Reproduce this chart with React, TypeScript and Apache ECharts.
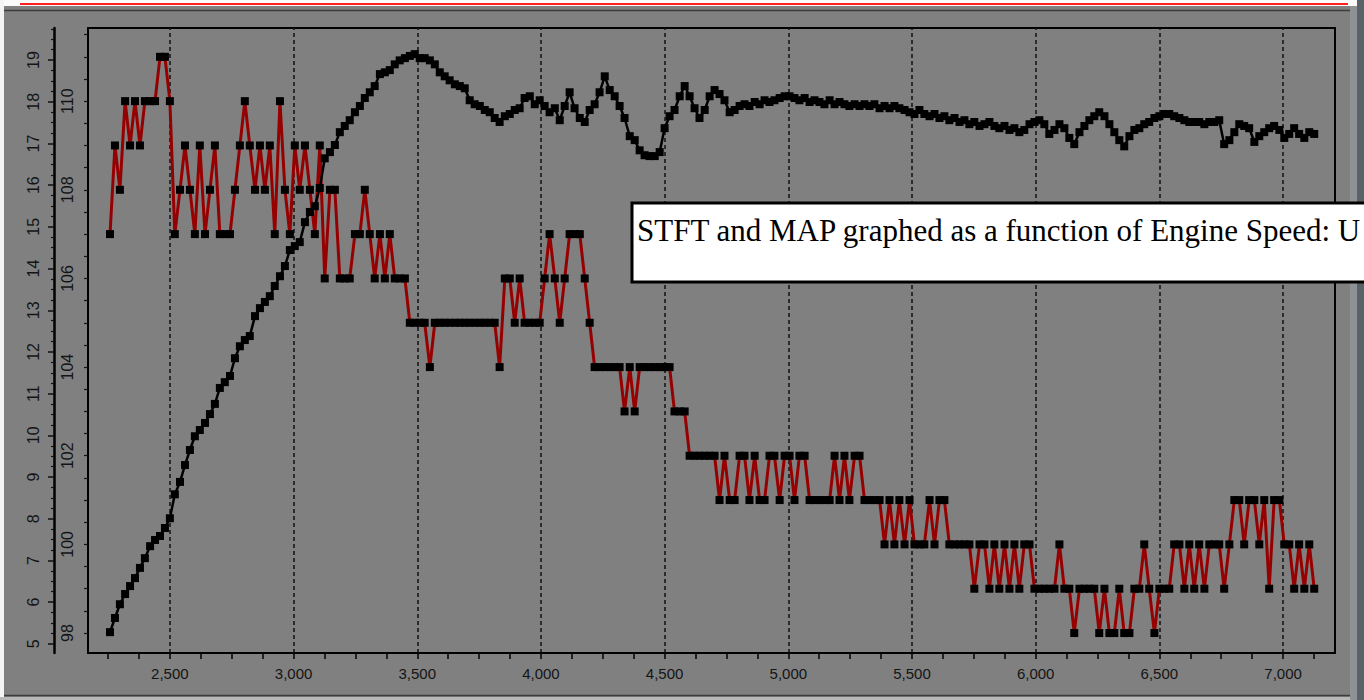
import React, { useEffect, useRef } from "react";
import * as echarts from "echarts";

// Engine speed of each logged sample (rpm)
const rpm = [
  2258, 2278, 2298, 2319, 2339, 2359, 2379, 2399, 2420, 2440,
  2460, 2480, 2500, 2520, 2541, 2561, 2581, 2601, 2621, 2642,
  2662, 2682, 2702, 2722, 2743, 2763, 2783, 2803, 2823, 2844,
  2864, 2884, 2904, 2924, 2945, 2965, 2985, 3005, 3025, 3046,
  3066, 3086, 3106, 3126, 3147, 3167, 3187, 3207, 3227, 3248,
  3268, 3288, 3308, 3328, 3349, 3369, 3389, 3409, 3429, 3450,
  3470, 3490, 3510, 3530, 3551, 3571, 3591, 3611, 3631, 3652,
  3672, 3692, 3712, 3732, 3753, 3773, 3793, 3813, 3833, 3854,
  3874, 3894, 3914, 3934, 3955, 3975, 3995, 4015, 4035, 4056,
  4076, 4096, 4116, 4136, 4157, 4177, 4197, 4217, 4237, 4258,
  4278, 4298, 4318, 4338, 4359, 4379, 4399, 4419, 4439, 4460,
  4480, 4500, 4520, 4540, 4561, 4581, 4601, 4621, 4641, 4662,
  4682, 4702, 4722, 4742, 4763, 4783, 4803, 4823, 4843, 4864,
  4884, 4904, 4924, 4944, 4965, 4985, 5005, 5025, 5045, 5066,
  5086, 5106, 5126, 5146, 5167, 5187, 5207, 5227, 5247, 5268,
  5288, 5308, 5328, 5348, 5369, 5389, 5409, 5429, 5449, 5470,
  5490, 5510, 5530, 5550, 5571, 5591, 5611, 5631, 5651, 5672,
  5692, 5712, 5732, 5752, 5773, 5793, 5813, 5833, 5853, 5874,
  5894, 5914, 5934, 5954, 5975, 5995, 6015, 6035, 6055, 6076,
  6096, 6116, 6136, 6156, 6177, 6197, 6217, 6237, 6257, 6278,
  6298, 6318, 6338, 6358, 6379, 6399, 6419, 6439, 6459, 6480,
  6500, 6520, 6540, 6560, 6581, 6601, 6621, 6641, 6661, 6682,
  6702, 6722, 6742, 6762, 6783, 6803, 6823, 6843, 6863, 6884,
  6904, 6924, 6944, 6964, 6985, 7005, 7025, 7045, 7065, 7086,
  7106, 7126,
];

// Short term fuel trim (%)
const stft = [
  15, 17, 16, 18, 17, 18, 17, 18, 18, 18,
  19, 19, 18, 15, 16, 17, 16, 15, 17, 15,
  16, 17, 15, 15, 15, 16, 17, 18, 17, 16,
  17, 16, 17, 15, 18, 16, 15, 17, 16, 17,
  16, 15, 17, 14, 16, 16, 14, 14, 14, 15,
  15, 16, 15, 14, 15, 14, 15, 14, 14, 14,
  13, 13, 13, 13, 12, 13, 13, 13, 13, 13,
  13, 13, 13, 13, 13, 13, 13, 13, 12, 14,
  14, 13, 14, 13, 13, 13, 13, 14, 15, 14,
  13, 14, 15, 15, 15, 14, 13, 12, 12, 12,
  12, 12, 12, 11, 12, 11, 12, 12, 12, 12,
  12, 12, 12, 11, 11, 11, 10, 10, 10, 10,
  10, 10, 9, 10, 9, 9, 10, 10, 9, 10,
  9, 9, 10, 10, 9, 10, 10, 9, 10, 10,
  9, 9, 9, 9, 9, 10, 9, 10, 9, 10,
  10, 9, 9, 9, 9, 8, 9, 8, 9, 8,
  9, 8, 8, 8, 9, 8, 9, 9, 8, 8,
  8, 8, 8, 7, 8, 8, 7, 8, 7, 8,
  7, 8, 7, 8, 8, 7, 7, 7, 7, 7,
  8, 7, 7, 6, 7, 7, 7, 7, 6, 7,
  6, 6, 7, 6, 6, 7, 7, 8, 7, 6,
  7, 7, 7, 8, 8, 7, 8, 7, 8, 7,
  8, 8, 8, 7, 8, 9, 9, 8, 9, 9,
  8, 9, 7, 9, 9, 8, 8, 7, 8, 7,
  8, 7,
];

// Manifold absolute pressure (kPa)
const mapKpa = [
  98.02, 98.34, 98.65, 98.88, 99.06, 99.24, 99.47, 99.69, 99.96, 100.1,
  100.19, 100.37, 100.59, 101.13, 101.41, 101.79, 102.13, 102.44, 102.58, 102.74,
  102.94, 103.17, 103.53, 103.66, 103.8, 104.2, 104.47, 104.61, 104.7, 105.15,
  105.33, 105.47, 105.6, 105.83, 106.05, 106.28, 106.64, 106.73, 106.82, 107.27,
  107.5, 107.63, 108.04, 108.71, 108.85, 109.01, 109.3, 109.44, 109.57, 109.75,
  109.89, 110.07, 110.2, 110.34, 110.61, 110.65, 110.7, 110.83, 110.92, 110.97,
  111.02, 111.06, 110.97, 110.97, 110.92, 110.83, 110.65, 110.56, 110.47, 110.38,
  110.34, 110.29, 110.02, 109.93, 109.89, 109.8, 109.75, 109.62, 109.53, 109.66,
  109.71, 109.8, 109.84, 110.07, 110.11, 109.93, 110.02, 109.89, 109.75, 109.84,
  109.57, 109.89, 110.2, 109.84, 109.62, 109.53, 109.8, 109.93, 110.2, 110.56,
  110.25, 110.11, 109.89, 109.62, 109.21, 109.12, 108.89, 108.78, 108.76, 108.76,
  108.85, 109.39, 109.66, 109.8, 110.11, 110.34, 110.11, 109.84, 109.62, 109.8,
  110.11, 110.25, 110.16, 110.02, 109.75, 109.8, 109.89, 109.93, 109.89, 109.98,
  109.93, 110.02, 109.98, 110.02, 110.07, 110.11, 110.11, 110.07, 110.02, 110.07,
  109.98, 110.02, 109.98, 109.93, 110.02, 109.93, 109.98, 109.93, 109.89, 109.93,
  109.89, 109.93, 109.89, 109.93, 109.84, 109.89, 109.84, 109.89, 109.84, 109.8,
  109.75, 109.71, 109.8, 109.71, 109.66, 109.71, 109.62, 109.66, 109.57, 109.62,
  109.53, 109.57, 109.48, 109.53, 109.44, 109.48, 109.53, 109.44, 109.39, 109.44,
  109.35, 109.39, 109.3, 109.35, 109.48, 109.53, 109.57, 109.48, 109.26, 109.35,
  109.48, 109.39, 109.17, 109.03, 109.3, 109.44, 109.57, 109.66, 109.75, 109.66,
  109.48, 109.3, 109.12, 108.98, 109.21, 109.35, 109.39, 109.48, 109.53, 109.62,
  109.66, 109.71, 109.71, 109.66, 109.62, 109.57, 109.53, 109.53, 109.53, 109.48,
  109.53, 109.53, 109.57, 109.03, 109.12, 109.3, 109.48, 109.44, 109.39, 109.08,
  109.21, 109.3, 109.39, 109.44, 109.35, 109.17, 109.26, 109.39, 109.26, 109.17,
  109.3, 109.26,
];

// Axis tick labels / tick positions
const xLabelValues = [2500, 3000, 3500, 4000, 4500, 5000, 5500, 6000, 6500, 7000];
const xTickValues = [
  2250, 2375, 2500, 2625, 2750, 2875, 3000, 3125, 3250, 3375, 3500, 3625, 3750, 3875,
  4000, 4125, 4250, 4375, 4500, 4625, 4750, 4875, 5000, 5125, 5250, 5375, 5500, 5625,
  5750, 5875, 6000, 6125, 6250, 6375, 6500, 6625, 6750, 6875, 7000, 7125,
];
const stftLabels = [5, 6, 7, 8, 9, 10, 11, 12, 13, 14, 15, 16, 17, 18, 19];
const stftMinorTicks = [
  5.25, 5.5, 5.75, 6.25, 6.5, 6.75, 7.25, 7.5, 7.75, 8.25, 8.5, 8.75, 9.25, 9.5, 9.75,
  10.25, 10.5, 10.75, 11.25, 11.5, 11.75, 12.25, 12.5, 12.75, 13.25, 13.5, 13.75,
  14.25, 14.5, 14.75, 15.25, 15.5, 15.75, 16.25, 16.5, 16.75, 17.25, 17.5, 17.75,
  18.25, 18.5, 18.75, 19.25, 19.5, 19.75,
];
const mapLabels = [98, 100, 102, 104, 106, 108, 110];
const mapTicks = [
  98, 98.5, 99, 99.5, 100, 100.5, 101, 101.5, 102, 102.5, 103, 103.5, 104, 104.5,
  105, 105.5, 106, 106.5, 107, 107.5, 108, 108.5, 109, 109.5, 110, 110.5, 111, 111.5,
];

const titleText = "STFT and MAP graphed as a function of Engine Speed: U";

export default function App() {
  const ref = useRef<HTMLDivElement>(null);

  useEffect(() => {
    if (!ref.current) return;
    const chart = echarts.init(ref.current, null, { renderer: "svg" });
    const stftData = rpm.map((r, i) => [r, stft[i]]);
    const mapData = rpm.map((r, i) => [r, mapKpa[i]]);
    const labelFont = {
      fontFamily: "Liberation Sans, Arial, sans-serif",
      fontSize: 15,
      color: "#141414",
    };

    chart.setOption({
      animation: false,
      backgroundColor: "#808080",
      grid: {
        left: 88,
        right: 29,
        top: 28,
        bottom: 47,
        show: true,
        backgroundColor: "transparent",
        borderColor: "#000",
        borderWidth: 2,
      },
      xAxis: {
        type: "value",
        min: 2169,
        max: 7210,
        axisLine: { show: true, lineStyle: { color: "#000", width: 2 } },
        axisTick: {
          show: true,
          customValues: xTickValues,
          length: 6,
          lineStyle: { color: "#000", width: 1.5 },
        },
        axisLabel: {
          ...labelFont,
          customValues: xLabelValues,
          margin: 13,
          formatter: (v: number) => v.toLocaleString("en-US"),
        },
        splitLine: { show: false },
      },
      yAxis: [
        {
          type: "value",
          position: "left",
          min: 97.55,
          max: 111.65,
          axisLine: { show: true, lineStyle: { color: "#000", width: 2 } },
          axisTick: {
            show: true,
            customValues: mapTicks,
            length: 4,
            lineStyle: { color: "#111", width: 1.2 },
          },
          axisLabel: {
            ...labelFont,
            fontSize: 16,
            customValues: mapLabels,
            rotate: 90,
            margin: 13,
          },
          splitLine: { show: false },
        },
        {
          type: "value",
          position: "left",
          offset: 34,
          min: 4.78,
          max: 19.77,
          axisLine: { show: true, lineStyle: { color: "#000", width: 2.5 } },
          axisTick: {
            show: true,
            customValues: stftLabels,
            length: 6,
            lineStyle: { color: "#111", width: 1.5 },
          },
          axisLabel: {
            ...labelFont,
            fontSize: 16,
            customValues: stftLabels,
            rotate: 90,
            margin: 13,
          },
          splitLine: { show: false },
        },
        {
          type: "value",
          position: "left",
          offset: 34,
          min: 4.78,
          max: 19.77,
          axisLine: { show: false },
          axisTick: {
            show: true,
            customValues: stftMinorTicks,
            length: 3,
            lineStyle: { color: "#111", width: 1.2 },
          },
          axisLabel: { show: false },
          splitLine: { show: false },
        },
        {
          type: "value",
          show: false,
          min: 5.55,
          max: 19.65,
          splitLine: { show: false },
        },
      ],
      series: [
        {
          name: "STFT",
          type: "line",
          xAxisIndex: 0,
          yAxisIndex: 3,
          data: stftData,
          symbol: "rect",
          symbolSize: 8,
          showSymbol: true,
          lineStyle: { color: "#960000", width: 3 },
          itemStyle: { color: "#000" },
          z: 3,
          markLine: {
            silent: true,
            z: 1,
            symbol: ["none", "none"],
            label: { show: false },
            lineStyle: { color: "#111", type: [4, 3], width: 1.5 },
            data: xLabelValues.map((v) => ({ xAxis: v })),
          },
        },
        {
          name: "MAP",
          type: "line",
          xAxisIndex: 0,
          yAxisIndex: 0,
          data: mapData,
          symbol: "rect",
          symbolSize: 8,
          showSymbol: true,
          lineStyle: { color: "#000", width: 2.5 },
          itemStyle: { color: "#000" },
          z: 4,
        },
      ],
      graphic: [
        { type: "rect", z: 50, silent: true, shape: { x: 0, y: 0, width: 1364, height: 6 }, style: { fill: "#fafafa" } },
        { type: "rect", z: 50, silent: true, shape: { x: 0, y: 0, width: 4, height: 700 }, style: { fill: "#f4f4f4" } },
        { type: "rect", z: 50, silent: true, shape: { x: 0, y: 697, width: 1364, height: 3 }, style: { fill: "#b8b8b8" } },
        { type: "rect", z: 50, silent: true, shape: { x: 1350, y: 6, width: 7, height: 694 }, style: { fill: "#8e9297" } },
        { type: "rect", z: 50, silent: true, shape: { x: 1357, y: 0, width: 7, height: 700 }, style: { fill: "#5a6269" } },
        { type: "line", z: 51, silent: true, shape: { x1: 20, y1: 4, x2: 1348, y2: 4 }, style: { stroke: "#ff1e1e", lineWidth: 2 } },
        { type: "line", z: 51, silent: true, shape: { x1: 4, y1: 10.5, x2: 1350, y2: 10.5 }, style: { stroke: "#3c3c3c", lineWidth: 1.5 } },
        { type: "line", z: 51, silent: true, shape: { x1: 4, y1: 695.5, x2: 1350, y2: 695.5 }, style: { stroke: "#3c3c3c", lineWidth: 1.5 } },
        {
          type: "rect",
          z: 100,
          silent: true,
          shape: { x: 632, y: 203, width: 760, height: 79 },
          style: { fill: "#ffffff", stroke: "#000", lineWidth: 3 },
        },
        {
          type: "text",
          z: 101,
          silent: true,
          x: 637,
          y: 230,
          style: {
            text: titleText,
            fontFamily: "Liberation Serif, Times New Roman, serif",
            fontSize: 31,
            fill: "#000",
            verticalAlign: "middle",
          },
        },
      ],
    });

    return () => chart.dispose();
  }, []);

  return (
    <div
      ref={ref}
      style={{ position: "fixed", left: 0, top: 0, width: 1364, height: 700 }}
    />
  );
}
